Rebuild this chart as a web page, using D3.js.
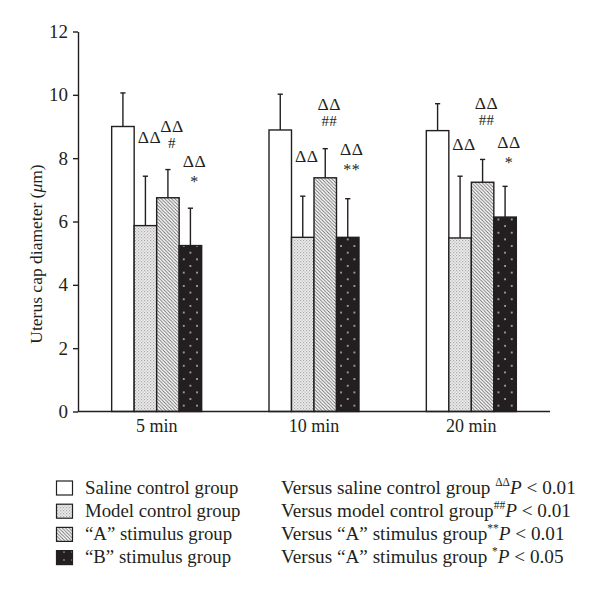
<!DOCTYPE html>
<html><head><meta charset="utf-8">
<script src="https://cdn.jsdelivr.net/npm/d3@7"></script>
<style>
html,body{margin:0;padding:0;background:#fff;}
svg text{font-family:"Liberation Serif","Times New Roman",serif;fill:#231f20;}
</style></head>
<body><svg id="c" width="600" height="591"></svg>
<script>
// ---- data ----
const groups = ["5 min", "10 min", "20 min"];
const seriesNames = ["Saline control group", "Model control group", "\u201cA\u201d stimulus group", "\u201cB\u201d stimulus group"];
const salineMean = [9.0, 8.89, 8.87];
const salineSD   = [1.06, 1.13, 0.85];
const modelMean  = [5.87, 5.5, 5.48];
const modelSD    = [1.56, 1.3, 1.95];
const aMean      = [6.75, 7.38, 7.24];
const aSD        = [0.89, 0.92, 0.72];
const bMean      = [5.24, 5.5, 6.14];
const bSD        = [1.18, 1.22, 0.97];
const yTicks = [0, 2, 4, 6, 8, 10, 12];
// significance marks (upper line, lower line) and the level (data units) where they sit
const sigModel = ["ΔΔ", "ΔΔ", "ΔΔ"];
const sigModelSub = ["", "", ""];
const sigModelLevel = [8.48, 7.87, 8.26];
const sigA = ["ΔΔ", "ΔΔ", "ΔΔ"];
const sigASub = ["#", "##", "##"];
const sigALevel = [8.83, 9.52, 9.55];
const sigB = ["ΔΔ", "ΔΔ", "ΔΔ"];
const sigBSub = ["*", "**", "*"];
const sigBLevel = [7.73, 8.10, 8.32];
const legendNotes = [
  {pre: "Versus saline control group ", sup: "ΔΔ", post: "P < 0.01"},
  {pre: "Versus model control group", sup: "##", post: "P < 0.01"},
  {pre: "Versus \u201cA\u201d stimulus group", sup: "**", post: "P < 0.01"},
  {pre: "Versus \u201cA\u201d stimulus group ", sup: "*", post: "P < 0.05"}
];

const means = [salineMean, modelMean, aMean, bMean];
const sds = [salineSD, modelSD, aSD, bSD];
const sigs = [null, {top: sigModel, sub: sigModelSub, lvl: sigModelLevel},
              {top: sigA, sub: sigASub, lvl: sigALevel},
              {top: sigB, sub: sigBSub, lvl: sigBLevel}];

const svg = d3.select("#c");
const defs = svg.append("defs");
const ink = "#231f20";

// patterns
const pModel = defs.append("pattern").attr("id", "pModel").attr("patternUnits", "userSpaceOnUse")
  .attr("width", 3).attr("height", 3);
pModel.append("rect").attr("width", 3).attr("height", 3).attr("fill", "#ededed");
pModel.append("rect").attr("x", 0).attr("y", 0).attr("width", 1.2).attr("height", 1.2).attr("fill", "#a8a8a8");
pModel.append("rect").attr("x", 1.5).attr("y", 1.5).attr("width", 1.2).attr("height", 1.2).attr("fill", "#b8b8b8");

const pA = defs.append("pattern").attr("id", "pA").attr("patternUnits", "userSpaceOnUse")
  .attr("width", 3.4).attr("height", 3.4);
pA.append("rect").attr("width", 3.4).attr("height", 3.4).attr("fill", "#fff");
pA.append("path").attr("d", "M-1,-1 L4.4,4.4 M-1,2.4 L1,4.4 M2.4,-1 L4.4,1")
  .attr("stroke", "#6b6b6b").attr("stroke-width", 0.9);

// scales
const y = d3.scaleLinear().domain([0, 12]).range([411.5, 31.5]);
const x0 = d3.scaleBand().domain(groups).range([78, 550]).paddingInner(0.428).paddingOuter(0.214);
const x1 = d3.scaleBand().domain(seriesNames).range([0, x0.bandwidth()]);

// B pattern per bar (aligned to bar left)
groups.forEach((g, gi) => {
  const bx = x0(g) + x1(seriesNames[3]);
  const p = defs.append("pattern").attr("id", "pB" + gi).attr("patternUnits", "userSpaceOnUse")
    .attr("x", bx + 4.6).attr("y", 0).attr("width", 13.3).attr("height", 13.3);
  p.append("rect").attr("x", -1).attr("y", -1).attr("width", 15.3).attr("height", 15.3).attr("fill", ink);
  [[0, 6.65], [13.3, 6.65], [6.65, 0], [6.65, 13.3]].forEach(c =>
    p.append("circle").attr("cx", c[0]).attr("cy", c[1]).attr("r", 0.9).attr("fill", "#cfcfcf"));
});

const fills = ["#fff", "url(#pModel)", "url(#pA)", null];
const fillFor = (si, gi) => si === 3 ? "url(#pB" + gi + ")" : fills[si];

// bars
const rows = [];
groups.forEach((g, gi) => seriesNames.forEach((s, si) => rows.push({g, gi, s, si, v: means[si][gi], sd: sds[si][gi]})));

svg.append("g").selectAll("rect.bar").data(rows).join("rect").attr("class", "bar")
  .attr("x", d => x0(d.g) + x1(d.s))
  .attr("y", d => y(d.v))
  .attr("width", x1.bandwidth())
  .attr("height", d => y(0) - y(d.v))
  .attr("fill", d => fillFor(d.si, d.gi))
  .attr("stroke", ink).attr("stroke-width", 1.4);

const eb = svg.append("g").attr("stroke", ink).attr("stroke-width", 1.4);
rows.forEach(d => {
  const cx = x0(d.g) + x1(d.s) + x1.bandwidth() / 2;
  eb.append("line").attr("x1", cx).attr("x2", cx).attr("y1", y(d.v)).attr("y2", y(d.v + d.sd));
  eb.append("line").attr("x1", cx - 2.6).attr("x2", cx + 2.6).attr("y1", y(d.v + d.sd)).attr("y2", y(d.v + d.sd));
});

// significance labels
const sg = svg.append("g");
sigs.forEach((sig, si) => {
  if (!sig) return;
  groups.forEach((g, gi) => {
    const cx = x0(g) + x1(seriesNames[si]) + x1.bandwidth() / 2 + 4;
    const by = y(sig.lvl[gi]);
    sg.append("text").attr("x", cx).attr("y", by).attr("text-anchor", "middle")
      .attr("font-size", 17.5).attr("letter-spacing", 0.5).text(sig.top[gi]);
    const sub = sig.sub[gi];
    if (sub) {
      const star = sub.indexOf("*") >= 0;
      sg.append("text").attr("x", cx).attr("y", by + (star ? 20 : 16)).attr("text-anchor", "middle")
        .attr("font-size", star ? 16 : 15).attr("letter-spacing", star ? 0.5 : 0.3).text(sub);
    }
  });
});

// y axis
const ya = svg.append("g").attr("transform", "translate(78,0)")
  .call(d3.axisLeft(y).tickValues(yTicks).tickSize(5).tickSizeOuter(0).tickPadding(5).tickFormat(d3.format("d")));
ya.select(".domain").attr("stroke", ink).attr("stroke-width", 1.4);
ya.selectAll(".tick line").attr("stroke", ink).attr("stroke-width", 1.4);
ya.selectAll(".tick text").attr("font-size", 19).attr("font-family", "Liberation Serif").attr("fill", ink);

// x axis baseline
svg.append("line").attr("x1", 78).attr("x2", 550).attr("y1", y(0)).attr("y2", y(0))
  .attr("stroke", ink).attr("stroke-width", 1.4);
svg.append("g").selectAll("text").data(groups).join("text")
  .attr("x", d => x0(d) + x0.bandwidth() / 2).attr("y", 432)
  .attr("text-anchor", "middle").attr("font-size", 18).text(d => d);

// y title
const yt = svg.append("text").attr("transform", "translate(42,254) rotate(-90)")
  .attr("text-anchor", "middle").attr("font-size", 17.5);
yt.append("tspan").text("Uterus cap diameter (");
yt.append("tspan").attr("font-style", "italic").text("μ");
yt.append("tspan").text("m)");

// legend
const pBL = defs.append("pattern").attr("id", "pBL").attr("patternUnits", "userSpaceOnUse")
  .attr("x", 60).attr("y", 484).attr("width", 8).attr("height", 8);
pBL.append("rect").attr("x", -1).attr("y", -1).attr("width", 10).attr("height", 10).attr("fill", ink);
pBL.append("circle").attr("cx", 4).attr("cy", 4).attr("r", 0.8).attr("fill", "#bbb");

const lg = svg.append("g");
seriesNames.forEach((s, si) => {
  const yy = 481 + si * 23.2;
  const fill = si === 3 ? "url(#pBL)" : fills[si];
  lg.append("rect").attr("x", 56.5).attr("y", yy).attr("width", 16).attr("height", 14)
    .attr("fill", fill).attr("stroke", ink).attr("stroke-width", 1.2);
  lg.append("text").attr("x", 85).attr("y", yy + 12.5).attr("font-size", 18.8).text(s);
});

legendNotes.forEach((n, i) => {
  const yy = 481 + i * 23.2 + 12.5;
  const t = lg.append("text").attr("x", 281).attr("y", yy).attr("font-size", 19.2);
  t.append("tspan").text(n.pre);
  t.append("tspan").attr("font-size", 11.5).attr("dy", -8).text(n.sup);
  t.append("tspan").attr("dy", 8).attr("font-style", "italic").text(n.post.split(" ")[0]);
  t.append("tspan").text(" " + n.post.split(" ").slice(1).join(" "));
});
</script></body></html>
